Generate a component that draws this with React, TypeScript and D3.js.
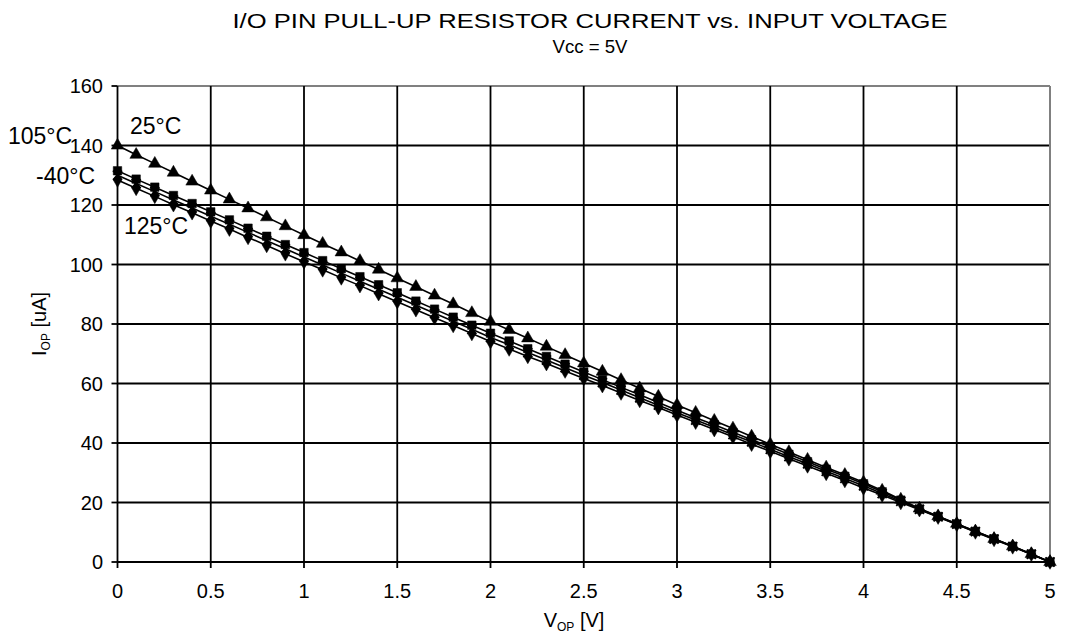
import React from "react";
import * as d3 from "d3";

const voltages: number[] = [
  0, 0.1, 0.2, 0.3, 0.4, 0.5, 0.6, 0.7, 0.8, 0.9,
  1, 1.1, 1.2, 1.3, 1.4, 1.5, 1.6, 1.7, 1.8, 1.9,
  2, 2.1, 2.2, 2.3, 2.4, 2.5, 2.6, 2.7, 2.8, 2.9,
  3, 3.1, 3.2, 3.3, 3.4, 3.5, 3.6, 3.7, 3.8, 3.9,
  4, 4.1, 4.2, 4.3, 4.4, 4.5, 4.6, 4.7, 4.8, 4.9, 5,
];

const current25: number[] = [
  140.0, 136.9, 133.9, 130.9, 127.9, 124.9, 121.9, 118.9, 115.9, 112.9,
  109.9, 107.0, 104.1, 101.2, 98.3, 95.4, 92.5, 89.6, 86.7, 83.7,
  80.8, 78.0, 75.2, 72.4, 69.6, 66.8, 64.0, 61.2, 58.4, 55.6,
  52.8, 50.2, 47.5, 44.9, 42.2, 39.6, 37.0, 34.4, 31.8, 29.3,
  26.8, 24.0, 21.0, 18.0, 15.4, 12.9, 10.3, 7.8, 5.3, 2.7, 0.0,
];

const current105: number[] = [
  131.5, 128.7, 126.0, 123.2, 120.5, 117.7, 115.0, 112.2, 109.5, 106.7,
  104.0, 101.3, 98.6, 95.9, 93.2, 90.5, 87.7, 85.0, 82.3, 79.6,
  76.9, 74.3, 71.7, 69.1, 66.5, 63.9, 61.3, 58.7, 56.2, 53.6,
  51.0, 48.5, 46.1, 43.6, 41.1, 38.7, 36.2, 33.7, 31.2, 28.8,
  26.3, 23.6, 20.8, 17.8, 15.3, 12.8, 10.3, 7.8, 5.3, 2.7, 0.0,
];

const currentMinus40: number[] = [
  130.0, 127.2, 124.5, 121.7, 119.0, 116.2, 113.5, 110.8, 108.0, 105.3,
  102.5, 99.8, 97.1, 94.4, 91.7, 89.0, 86.3, 83.6, 80.9, 78.2,
  75.5, 73.0, 70.4, 67.9, 65.3, 62.8, 60.3, 57.8, 55.2, 52.7,
  50.2, 47.7, 45.3, 42.8, 40.4, 37.9, 35.4, 33.0, 30.5, 28.1,
  25.6, 23.0, 20.4, 17.7, 15.2, 12.7, 10.2, 7.7, 5.2, 2.6, 0.0,
];

const current125: number[] = [
  128.4, 125.6, 122.9, 120.1, 117.4, 114.6, 111.9, 109.1, 106.4, 103.6,
  100.9, 98.2, 95.5, 92.9, 90.2, 87.5, 84.8, 82.1, 79.5, 76.8,
  74.1, 71.6, 69.1, 66.7, 64.2, 61.7, 59.3, 56.8, 54.3, 51.9,
  49.4, 47.0, 44.5, 42.1, 39.6, 37.2, 34.7, 32.3, 29.8, 27.4,
  24.9, 22.5, 20.0, 17.6, 15.1, 12.6, 10.1, 7.6, 5.1, 2.6, 0.0,
];

const xTicks: number[] = [0, 0.5, 1, 1.5, 2, 2.5, 3, 3.5, 4, 4.5, 5];
const yTicks: number[] = [0, 20, 40, 60, 80, 100, 120, 140, 160];

const seriesNames = ["25°C", "105°C", "-40°C", "125°C"];
const seriesValues = [current25, current105, currentMinus40, current125];
const seriesMarkers = ["triangle", "square", "x", "diamond"];

const W = 1072;
const H = 637;
const left = 117.5;
const right = 1050;
const top = 86;
const bottom = 562;

const font = "'Liberation Sans', Arial, sans-serif";

export default function App() {
  const x = d3.scaleLinear().domain([0, 5]).range([left, right]);
  const y = d3.scaleLinear().domain([0, 160]).range([bottom, top]);
  const line = d3
    .line<[number, number]>()
    .x((d) => x(d[0]))
    .y((d) => y(d[1]));

  const markerPath = (kind: string) => {
    if (kind === "triangle") return d3.symbol(d3.symbolTriangle, 68)() as string;
    if (kind === "square") return d3.symbol(d3.symbolSquare, 72)() as string;
    if (kind === "diamond") return d3.symbol(d3.symbolDiamond, 62)() as string;
    return d3.symbol(d3.symbolX, 55)() as string;
  };

  return (
    <svg
      width={W}
      height={H}
      style={{ position: "absolute", left: 0, top: 0, background: "#fff" }}
      fontFamily={font}
    >
      <rect x={0} y={0} width={W} height={H} fill="#fff" />
      <text x={590} y={28} textAnchor="middle" fontSize={20} textLength={715} lengthAdjust="spacingAndGlyphs">
        I/O PIN PULL-UP RESISTOR CURRENT vs. INPUT VOLTAGE
      </text>
      <text x={590} y={53} textAnchor="middle" fontSize={18} textLength={75} lengthAdjust="spacingAndGlyphs">
        Vcc = 5V
      </text>

      {/* grid */}
      {yTicks.map((t) => (
        <line
          key={"gy" + t}
          x1={left}
          x2={right}
          y1={y(t)}
          y2={y(t)}
          stroke={t === 160 ? "#808080" : "#000"}
          strokeWidth={t === 160 ? 2 : 1.8}
        />
      ))}
      {yTicks.map((t) => (
        <line key={"ty" + t} x1={left - 6} x2={left} y1={y(t)} y2={y(t)} stroke="#000" strokeWidth={1.8} />
      ))}
      {xTicks.map((t) => (
        <line
          key={"gx" + t}
          x1={x(t)}
          x2={x(t)}
          y1={top}
          y2={bottom}
          stroke={t === 5 ? "#808080" : "#000"}
          strokeWidth={t === 5 ? 2 : 1.8}
        />
      ))}
      {xTicks.map((t) => (
        <line key={"tx" + t} x1={x(t)} x2={x(t)} y1={bottom} y2={bottom + 6} stroke="#000" strokeWidth={1.8} />
      ))}

      {/* tick labels */}
      {yTicks.map((t) => (
        <text key={"ly" + t} x={103} y={y(t) + 7} textAnchor="end" fontSize={20}>
          {t}
        </text>
      ))}
      {xTicks.map((t) => (
        <text key={"lx" + t} x={x(t)} y={bottom + 36} textAnchor="middle" fontSize={20}>
          {t}
        </text>
      ))}

      {/* axis titles */}
      <text x={574} y={627} fontSize={20} textAnchor="middle">
        V<tspan fontSize={12} dy={4}>OP</tspan>
        <tspan dy={-4}> [V]</tspan>
      </text>
      <text transform={`translate(46,${y(80)}) rotate(-90)`} fontSize={20} textAnchor="middle">
        I<tspan fontSize={12} dy={4}>OP</tspan>
        <tspan dy={-4}> [uA]</tspan>
      </text>

      {/* series */}
      {seriesValues.map((vals, i) => (
        <path
          key={"l" + i}
          d={line(voltages.map((v, j) => [v, vals[j]] as [number, number])) as string}
          fill="none"
          stroke="#000"
          strokeWidth={1.6}
        />
      ))}
      {seriesValues.map((vals, i) =>
        vals.map((val, j) => {
          const kind = seriesMarkers[i];
          const isX = kind === "x";
          return (
            <path
              key={"m" + i + "-" + j}
              d={markerPath(kind)}
              transform={`translate(${x(voltages[j])},${y(val)})`}
              fill={isX ? "none" : "#000"}
              stroke="#000"
              strokeWidth={isX ? 1.8 : 0.5}
            />
          );
        })
      )}

      {/* series labels */}
      <text x={130} y={134} fontSize={23}>{seriesNames[0]}</text>
      <text x={8} y={144} fontSize={23}>{seriesNames[1]}</text>
      <text x={36} y={184} fontSize={23}>{seriesNames[2]}</text>
      <text x={124} y={234} fontSize={23}>{seriesNames[3]}</text>
    </svg>
  );
}
